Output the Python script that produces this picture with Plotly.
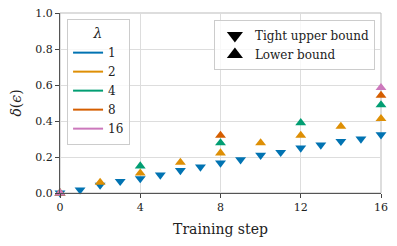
import plotly.graph_objects as go

steps_upper = list(range(17))
upper_bound = [0.0, 0.018, 0.044, 0.065, 0.08, 0.10, 0.125, 0.145, 0.167, 0.185,
               0.21, 0.226, 0.25, 0.267, 0.287, 0.30, 0.324]

lambdas = ["1", "2", "4", "8", "16"]
colors = ["#0173B2", "#DE8F05", "#029E73", "#D55E00", "#CC78BC"]

steps_l2 = [0, 2, 4, 6, 8, 10, 12, 14, 16]
lower_l2 = [0.0, 0.059, 0.11, 0.17, 0.222, 0.278, 0.32, 0.37, 0.413]
steps_l4 = [0, 4, 8, 12, 16]
lower_l4 = [0.0, 0.15, 0.278, 0.39, 0.489]
steps_l8 = [0, 8, 16]
lower_l8 = [0.0, 0.32, 0.542]
steps_l16 = [0, 16]
lower_l16 = [0.0, 0.585]

x_ticks = [0, 4, 8, 12, 16]
y_ticks = [0.0, 0.2, 0.4, 0.6, 0.8, 1.0]

FONT = "DejaVu Serif"
MS = 9.5

fig = go.Figure()

# data
fig.add_trace(go.Scatter(x=steps_upper, y=upper_bound, mode="markers",
                         marker=dict(symbol="triangle-down", size=MS, color=colors[0]),
                         showlegend=False, cliponaxis=False))
for xs, ys, c in [(steps_l2, lower_l2, colors[1]), (steps_l4, lower_l4, colors[2]),
                  (steps_l8, lower_l8, colors[3]), (steps_l16, lower_l16, colors[4])]:
    fig.add_trace(go.Scatter(x=xs, y=ys, mode="markers",
                             marker=dict(symbol="triangle-up", size=MS, color=c),
                             showlegend=False, cliponaxis=False))

# legend 1: lambda colours
for lam, c in zip(lambdas, colors):
    fig.add_trace(go.Scatter(x=[None], y=[None], mode="lines", name=lam,
                             line=dict(color=c, width=2), legend="legend"))
# legend 2: marker shapes
fig.add_trace(go.Scatter(x=[None], y=[None], mode="markers", name="Tight upper bound",
                         marker=dict(symbol="triangle-down", size=14, color="black"),
                         legend="legend2"))
fig.add_trace(go.Scatter(x=[None], y=[None], mode="markers", name="Lower bound",
                         marker=dict(symbol="triangle-up", size=14, color="black"),
                         legend="legend2"))

fig.update_layout(
    width=397, height=246,
    margin=dict(l=60, r=16, t=13, b=53, autoexpand=False),
    paper_bgcolor="white", plot_bgcolor="white",
    font=dict(family=FONT, size=11, color="#222"),
    xaxis=dict(range=[0, 16], tickvals=x_ticks, ticks="outside", ticklen=4,
               tickcolor="#444", showgrid=True, gridcolor="#dddddd", gridwidth=1,
               showline=True, linecolor="#555", linewidth=1, zeroline=False,
               automargin=False,
               title=dict(text="Training step", font=dict(size=14, family=FONT), standoff=10),
               tickfont=dict(size=11, family=FONT)),
    yaxis=dict(range=[0, 1], tickvals=y_ticks, ticktext=[f"{v:.1f}" for v in y_ticks],
               ticks="outside", ticklen=4, tickcolor="#444", showgrid=True,
               gridcolor="#dddddd", gridwidth=1, showline=True, linecolor="#555",
               linewidth=1, zeroline=False, automargin=False,
               title=dict(text="<i>δ</i>(<i>ϵ</i>)", font=dict(size=14, family=FONT), standoff=10),
               tickfont=dict(size=11, family=FONT)),
    legend=dict(x=0.022, y=0.967, xanchor="left", yanchor="top",
                bgcolor="rgba(255,255,255,0.8)", bordercolor="#cccccc", borderwidth=1,
                title=dict(text="<i>λ</i>", side="top center", font=dict(size=14, family=FONT)),
                font=dict(size=12, family=FONT), itemwidth=30, tracegroupgap=0),
    legend2=dict(x=0.981, y=0.961, xanchor="right", yanchor="top",
                 bgcolor="rgba(255,255,255,0.8)", bordercolor="#cccccc", borderwidth=1,
                 font=dict(size=12, family=FONT), itemwidth=30),
    shapes=[dict(type="rect", xref="paper", yref="paper", x0=0, y0=0, x1=1, y1=1,
                 line=dict(color="#bbbbbb", width=1), layer="below")],
)

fig.write_html("out.html",
               config={"displayModeBar": False},
               post_script="document.body.style.margin='0';document.body.style.padding='0';"
                           "document.documentElement.style.overflow='hidden';")
